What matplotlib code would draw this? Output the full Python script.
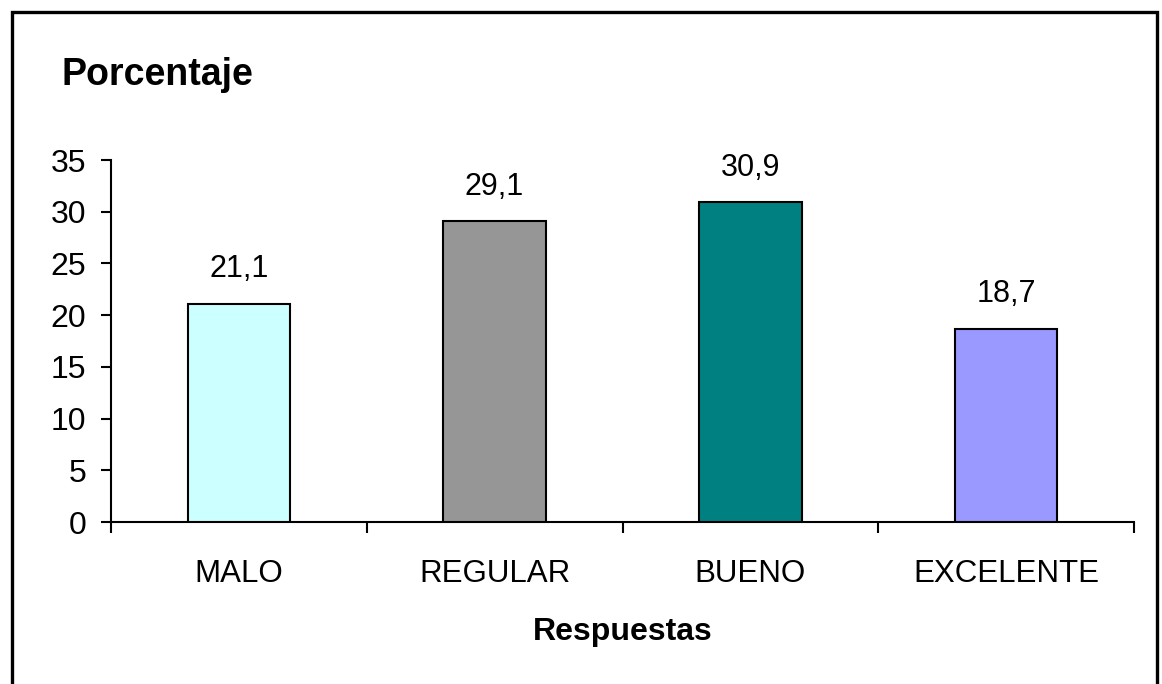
#!/usr/bin/env python3
"""Bar chart of survey responses (percentage per answer)."""

import matplotlib

matplotlib.use("Agg")
import matplotlib.pyplot as plt
from matplotlib.patches import Rectangle

categories = ["MALO", "REGULAR", "BUENO", "EXCELENTE"]
percent = [21.1, 29.1, 30.9, 18.7]
colors = ["#CCFFFF", "#969696", "#008080", "#9999FF"]

plt.rcParams["font.family"] = ["Liberation Sans", "DejaVu Sans"]

fig = plt.figure(figsize=(11.62, 6.84), dpi=100)

# outer black frame (bottom edge runs off the canvas)
fig.patches.append(
    Rectangle((12 / 1162, -0.05), (1157 - 12) / 1162, 1.05 - 12 / 684,
              transform=fig.transFigure, fill=False, edgecolor="black",
              linewidth=2.4)
)

ax = fig.add_axes([111 / 1162, 1 - 522 / 684, (1134 - 111) / 1162, (522 - 160) / 684])

x = [i + 0.5 for i in range(len(categories))]
ax.bar(x, percent, width=0.4, color=colors, edgecolor="black", linewidth=1.5, zorder=3)

for xi, v in zip(x, percent):
    ax.annotate(f"{v:.1f}".replace(".", ","), (xi, v), xytext=(0, 14),
                textcoords="offset points", ha="center", va="bottom", fontsize=22)

ax.set_xlim(0, len(categories))
ax.set_ylim(0, 35)
ax.set_yticks(range(0, 36, 5))

# tick marks between categories, labels centered under bars
ax.set_xticks(range(len(categories) + 1))
ax.set_xticklabels([])
ax.set_xticks(x, minor=True)
ax.set_xticklabels(categories, minor=True)
ax.tick_params(axis="x", which="major", length=8, width=1.5, direction="out")
ax.tick_params(axis="x", which="minor", length=0, pad=27, labelsize=22.5)
ax.tick_params(axis="y", length=7, width=1.5, direction="out", labelsize=23, pad=11)

for side in ("top", "right"):
    ax.spines[side].set_visible(False)
for side in ("left", "bottom"):
    ax.spines[side].set_linewidth(1.5)

ax.set_xlabel("Respuestas", fontsize=23, fontweight="bold", labelpad=20)
fig.text(62 / 1162, 1 - 75 / 684, "Porcentaje", fontsize=27, fontweight="bold",
         ha="left", va="center")

fig.savefig("out.png", dpi=100, facecolor="white")
